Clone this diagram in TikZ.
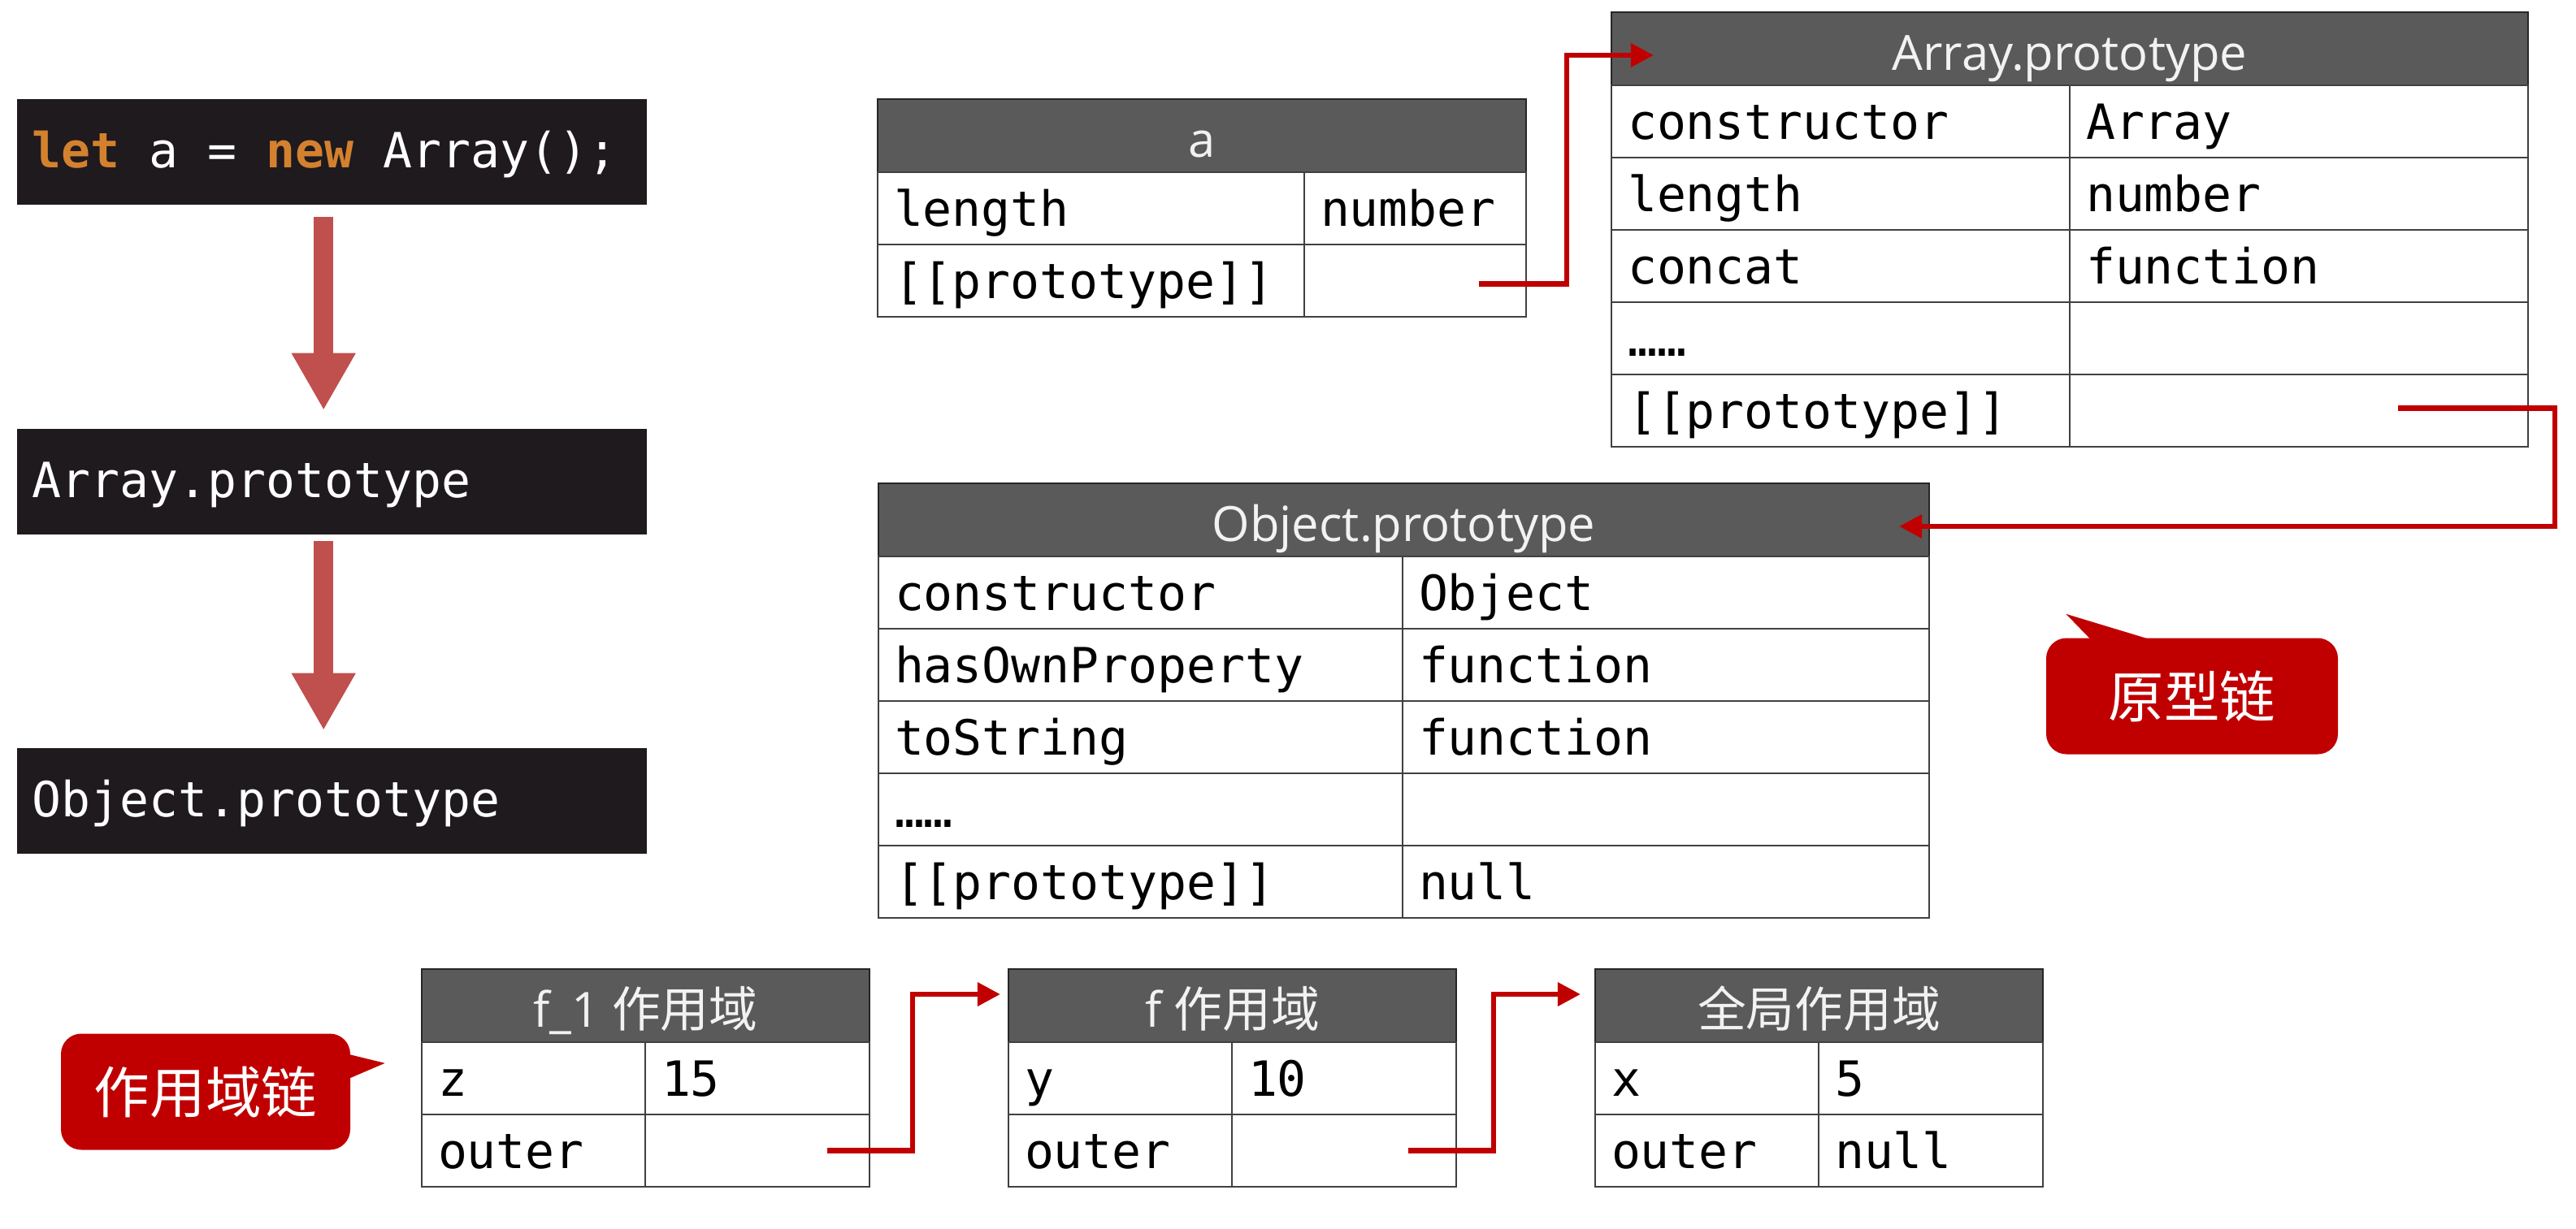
\documentclass[tikz,border=0pt]{standalone}
\usepackage{fontspec}
\setmonofont{DejaVu Sans Mono}
\newfontfamily\hdrfont{Open Sans}
\newfontfamily\cjk{Noto Sans CJK SC}
\usetikzlibrary{positioning,calc,arrows.meta}
\definecolor{codebg}{HTML}{1E1A1D}
\definecolor{kwcolor}{HTML}{D4812F}
\definecolor{arrowred}{HTML}{C0504D}
\definecolor{hdrgray}{HTML}{5A5A5A}
\definecolor{cellline}{HTML}{404040}
\definecolor{chainred}{HTML}{C00000}
\newcommand\cellfont{\ttfamily\fontsize{17}{20}\selectfont}
\newcommand\headfont{\hdrfont\fontsize{17}{20}\selectfont}
\newcommand\tagfont{\cjk\fontsize{19.5}{22}\selectfont}
\newcommand\msp{\phantom{a}}
\begin{document}
\begin{tikzpicture}[x=1cm,y=-1cm,
    codebox/.style={fill=codebg,text=white,font=\cellfont,text width=7.37cm,inner xsep=0.19cm,inner ysep=0pt,
        minimum height=1.3cm,align=left,text height=13pt,text depth=1.6pt,anchor=north west},
    bigarrow/.style={draw=arrowred,line width=6.8pt,-{Triangle[length=20pt,width=21pt]}},
    head/.style={draw=black!85,fill=hdrgray,text=white!95!black,font=\headfont,minimum width=#1,minimum height=0.9cm,
        inner sep=0pt,outer sep=0pt,line width=0.7pt,text height=16pt,text depth=1.2pt,anchor=north west},
    cell/.style={draw=cellline,fill=white,font=\cellfont,text width=#1,inner xsep=0.2cm,inner ysep=0pt,outer sep=0pt,
        minimum height=0.89cm,line width=0.7pt,align=left,text height=14pt,text depth=1.4pt},
    chain/.style={draw=chainred,line width=1.8pt,-{Triangle[length=8pt,width=8pt]}},
    tag/.style={fill=chainred,text=white,font=\tagfont,minimum width=#1,minimum height=1.43cm,rounded corners=0.25cm,inner sep=0pt}]
    \useasboundingbox (0,0) rectangle (31.70,15.12);
    % Code boxes
    \node[codebox] (code1) at (0.20,1.21) {{\color{kwcolor}\bfseries let}\msp a\msp=\msp{\color{kwcolor}\bfseries new}\msp Array();};
    \node[codebox] (code2) at (0.20,5.27) {Array.prototype};
    \node[codebox] (code3) at (0.20,9.20) {Object.prototype};
    \draw[bigarrow,shorten <=0.15cm,shorten >=0.22cm] ([xshift=-0.1cm]code1.south) -- ([xshift=-0.1cm]code2.north);
    \draw[bigarrow,shorten <=0.08cm,shorten >=0.21cm] ([xshift=-0.1cm]code2.south) -- ([xshift=-0.1cm]code3.north);
    % Object a
    \node[head=7.98cm] (aHead) at (10.80,1.22) {a};
    \node[cell=4.85cm,anchor=north west] (aLenK) at (aHead.south west) {length};
    \node[cell=2.33cm,right=0pt of aLenK] (aLenV) {number};
    \node[cell=4.85cm,below=0pt of aLenK] (aProtoK) {[[prototype]]};
    \node[cell=2.33cm,right=0pt of aProtoK] (aProtoV) {};
    % Array.prototype
    \node[head=11.28cm] (arrHead) at (19.83,0.15) {Array.prototype};
    \node[cell=5.24cm,anchor=north west] (arrConK) at (arrHead.south west) {constructor};
    \node[cell=5.24cm,right=0pt of arrConK] (arrConV) {Array};
    \node[cell=5.24cm,below=0pt of arrConK] (arrLenK) {length};
    \node[cell=5.24cm,right=0pt of arrLenK] (arrLenV) {number};
    \node[cell=5.24cm,below=0pt of arrLenK] (arrCatK) {concat};
    \node[cell=5.24cm,right=0pt of arrCatK] (arrCatV) {function};
    \node[cell=5.24cm,below=0pt of arrCatK] (arrDotK) {……};
    \node[cell=5.24cm,right=0pt of arrDotK] (arrDotV) {};
    \node[cell=5.24cm,below=0pt of arrDotK] (arrProtoK) {[[prototype]]};
    \node[cell=5.24cm,right=0pt of arrProtoK] (arrProtoV) {};
    % Object.prototype
    \node[head=12.93cm] (objHead) at (10.81,5.95) {Object.prototype};
    \node[cell=6.05cm,anchor=north west] (objConK) at (objHead.south west) {constructor};
    \node[cell=6.08cm,right=0pt of objConK] (objConV) {Object};
    \node[cell=6.05cm,below=0pt of objConK] (objOwnK) {hasOwnProperty};
    \node[cell=6.08cm,right=0pt of objOwnK] (objOwnV) {function};
    \node[cell=6.05cm,below=0pt of objOwnK] (objStrK) {toString};
    \node[cell=6.08cm,right=0pt of objStrK] (objStrV) {function};
    \node[cell=6.05cm,below=0pt of objStrK] (objDotK) {……};
    \node[cell=6.08cm,right=0pt of objDotK] (objDotV) {};
    \node[cell=6.05cm,below=0pt of objDotK] (objProtoK) {[[prototype]]};
    \node[cell=6.08cm,right=0pt of objProtoK] (objProtoV) {null};
    % Scopes
    \node[head=5.51cm] (f1Head) at (5.19,11.93) {f\_1 {\cjk 作用域}};
    \node[cell=2.35cm,anchor=north west] (f1VarK) at (f1Head.south west) {z};
    \node[cell=2.36cm,right=0pt of f1VarK] (f1VarV) {15};
    \node[cell=2.35cm,below=0pt of f1VarK] (f1OuterK) {outer};
    \node[cell=2.36cm,right=0pt of f1OuterK] (f1OuterV) {};
    \node[head=5.51cm] (fHead) at (12.41,11.93) {f {\cjk 作用域}};
    \node[cell=2.35cm,anchor=north west] (fVarK) at (fHead.south west) {y};
    \node[cell=2.36cm,right=0pt of fVarK] (fVarV) {10};
    \node[cell=2.35cm,below=0pt of fVarK] (fOuterK) {outer};
    \node[cell=2.36cm,right=0pt of fOuterK] (fOuterV) {};
    \node[head=5.51cm] (globHead) at (19.63,11.93) {\cjk 全局作用域};
    \node[cell=2.35cm,anchor=north west] (globVarK) at (globHead.south west) {x};
    \node[cell=2.36cm,right=0pt of globVarK] (globVarV) {5};
    \node[cell=2.35cm,below=0pt of globVarK] (globOuterK) {outer};
    \node[cell=2.36cm,right=0pt of globOuterK] (globOuterV) {null};
    % Chains
    \draw[chain] ([shift={(-0.58cm,-0.04cm)}]aProtoV.east) -- ++(1.08,0) |- ([shift={(0.52cm,-0.08cm)}]arrHead.west);
    \draw[chain] ([shift={(-1.60cm,0.03cm)}]arrProtoV.east) -- ++(1.93,0) |- ([shift={(-0.37cm,-0.08cm)}]objHead.east);
    \draw[chain] ([xshift=-0.52cm]f1OuterV.east) -- ++(1.05,0) |- ([shift={(-0.10cm,0.14cm)}]fHead.west);
    \draw[chain] ([xshift=-0.59cm]fOuterV.east) -- ++(1.05,0) |- ([shift={(-0.18cm,0.14cm)}]globHead.west);
    % Tags
    \node[tag=3.59cm] (protoTag) at (26.975,8.57) {原型链};
    \fill[chainred] ([shift={(0.6cm,-2pt)}]protoTag.north west) -- ([shift={(0.25cm,0.29cm)}]protoTag.north west)
        -- ([shift={(1.44cm,-2pt)}]protoTag.north west) -- cycle;
    \node[tag=3.56cm] (scopeTag) at (2.53,13.44) {作用域链};
    \fill[chainred] ([shift={(-2pt,-0.25cm)}]scopeTag.north east) -- ([shift={(0.42cm,-0.37cm)}]scopeTag.north east)
        -- ([shift={(-2pt,-0.58cm)}]scopeTag.north east) -- cycle;
\end{tikzpicture}
\end{document}
